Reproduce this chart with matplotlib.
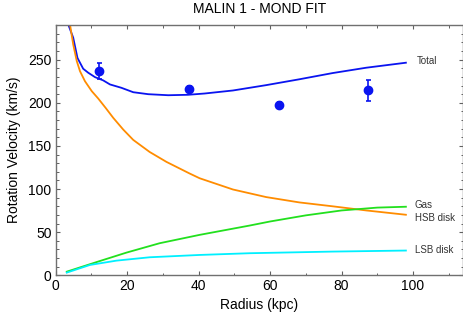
import matplotlib
matplotlib.use("Agg")
import matplotlib.pyplot as plt
from matplotlib.ticker import MultipleLocator

plt.rcParams["font.family"] = ["Liberation Sans", "DejaVu Sans"]

# observed rotation curve
obs_r = [12.1, 37.4, 62.5, 87.5]
obs_v = [236.8, 216.3, 197.5, 214.3]
obs_err = [9.5, 3.0, 4.0, 12.0]

# model components
total_r = [3.0, 3.5, 4.9, 6.1, 7.7, 9.1, 11.0, 13.3, 15.2, 18.4, 21.7, 25.9,
           31.5, 37.0, 41.7, 49.6, 58.9, 68.2, 77.5, 86.9, 98.0]
total_v = [297, 291, 275.6, 252, 239.5, 234.9, 229.8, 226, 221.3, 217.4, 212.3,
           210, 208.8, 209.3, 210.8, 214.3, 220.5, 227.3, 234.5, 240.7, 246.5]

hsb_r = [3.2, 4.0, 4.9, 5.9, 6.8, 8.2, 10.1, 11.9, 14.0, 16.1, 18.9, 21.7, 26.3,
         31.0, 37.5, 40.3, 49.6, 58.9, 68.2, 77.5, 86.9, 98.0]
hsb_v = [310, 291, 267.8, 248.4, 236.7, 225, 213.5, 205, 194, 182.6, 169, 157,
         143, 131.5, 118, 112.5, 99.5, 90.7, 84.5, 80.0, 75.2, 70.2]

gas_r = [3.1, 12.4, 19.8, 29.1, 40.3, 54.3, 60.0, 70.0, 80.0, 90.0, 98.0]
gas_v = [4.2, 16.6, 26.3, 37.2, 46.9, 57.7, 62.4, 69.5, 75.2, 78.5, 79.5]

lsb_r = [3.1, 9.6, 17.0, 26.3, 40.3, 54.3, 77.5, 98.0]
lsb_v = [3.1, 12.0, 17.0, 20.9, 23.6, 25.6, 27.5, 28.7]

fig = plt.figure(figsize=(4.64, 3.19), dpi=100)
ax = fig.add_axes([0.12, 0.137, 0.878, 0.784])

lw = 1.3
ax.plot(total_r, total_v, color="#0a14f0", lw=lw)
ax.plot(hsb_r, hsb_v, color="#ff8c00", lw=lw)
ax.plot(gas_r, gas_v, color="#22e01e", lw=lw)
ax.plot(lsb_r, lsb_v, color="#00f0ff", lw=lw)

ax.errorbar(obs_r, obs_v, yerr=obs_err, fmt="o", color="#0a14f0",
            markersize=6, capsize=1.8, elinewidth=1.2, capthick=1.2)

lab_kw = dict(fontsize=7, va="center", ha="left", color="#333333")
ax.text(101, 248, "Total", **lab_kw)
ax.text(100.5, 81, "Gas", **lab_kw)
ax.text(100.5, 67, "HSB disk", **lab_kw)
ax.text(100.5, 29.5, "LSB disk", **lab_kw)

ax.set_xlim(0, 114)
ax.set_ylim(0, 290)
ax.xaxis.set_major_locator(MultipleLocator(20))
ax.xaxis.set_minor_locator(MultipleLocator(10))
ax.yaxis.set_major_locator(MultipleLocator(50))
ax.yaxis.set_minor_locator(MultipleLocator(10))
ax.tick_params(which="both", direction="in", top=True, right=True,
               color="#606060", labelsize=10, pad=3)
ax.tick_params(which="major", length=3, width=0.8)
ax.tick_params(which="minor", length=1.8, width=0.7)
for sp in ax.spines.values():
    sp.set_color("#707070")
    sp.set_linewidth(1.0)

ax.set_xlabel("Radius (kpc)", fontsize=10, labelpad=3)
ax.set_ylabel("Rotation Velocity (km/s)", fontsize=10, labelpad=5)
ax.set_title("MALIN 1 - MOND FIT", fontsize=10, pad=9)

fig.savefig("out.png", dpi=100)
